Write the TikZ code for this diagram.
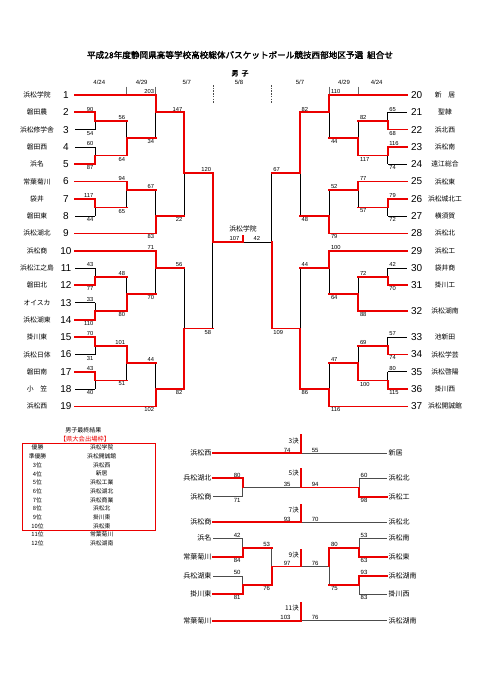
\documentclass[tikz,border=0pt]{standalone}
\usepackage{fontspec}
\setmainfont{Liberation Sans}
\newfontfamily\jp{Noto Sans CJK JP}
\newfontfamily\jpb[FakeBold=2]{Noto Sans CJK JP}
\definecolor{rd}{RGB}{235,0,0}
\pgfdeclarelayer{fg}
\pgfsetlayers{main,fg}
\newcount\mysccnt
\tikzset{
  rl/.style={draw=rd, line width=1.7pt, line cap=rect},
  bl/.style={draw=black, line width=0.8pt},
  pbl/.style={draw=black!70, line width=0.6pt},
  sc/.style={inner sep=0pt, font=\fontsize{5.8}{6}\selectfont},
  num/.style={inner sep=0pt, font=\fontsize{10}{11}\selectfont},
  tn/.style={inner sep=0pt, font=\jp\fontsize{6.8}{7}\selectfont},
  pn/.style={inner sep=0pt, font=\jp\fontsize{7}{8}\selectfont},
  psc/.style={inner sep=0pt, font=\fontsize{6}{7}\selectfont},
  pk/.style={inner sep=0pt, font=\jp\fontsize{6.5}{7}\selectfont},
  rk/.style={inner sep=0pt, font=\jp\fontsize{5.8}{6}\selectfont},
  dt/.style={inner sep=0pt, font=\fontsize{6}{7}\selectfont},
  tick/.style={draw=black!60, line width=0.5pt},
  dtick/.style={draw=black!70, line width=0.5pt, dash pattern=on 1.5pt off 1.2pt}
}
% left match: x, ytop, ybot, yout, xnext, topwins, topscore, botscore
\newcommand{\LM}[8]{%
  \ifnum#6=1
    \begin{pgfonlayer}{fg}\draw[rl] (#1,#2)--(#1,#4)--(#5,#4);\end{pgfonlayer}
    \draw[bl] (#1,#4)--(#1,#3);
  \else
    \begin{pgfonlayer}{fg}\draw[rl] (#1,#3)--(#1,#4)--(#5,#4);\end{pgfonlayer}
    \draw[bl] (#1,#2)--(#1,#4);
  \fi
  \global\advance\mysccnt by 1
  \node[sc,anchor=south east] (s\the\mysccnt) at (#1-1.5,#2-1) {#7};
  \global\advance\mysccnt by 1
  \node[sc,anchor=north east] (s\the\mysccnt) at (#1-1.5,#3+1.3) {#8};
}
\newcommand{\RM}[8]{%
  \ifnum#6=1
    \begin{pgfonlayer}{fg}\draw[rl] (#1,#2)--(#1,#4)--(#5,#4);\end{pgfonlayer}
    \draw[bl] (#1,#4)--(#1,#3);
  \else
    \begin{pgfonlayer}{fg}\draw[rl] (#1,#3)--(#1,#4)--(#5,#4);\end{pgfonlayer}
    \draw[bl] (#1,#2)--(#1,#4);
  \fi
  \global\advance\mysccnt by 1
  \node[sc,anchor=south west] (s\the\mysccnt) at (#1+1.5,#2-1) {#7};
  \global\advance\mysccnt by 1
  \node[sc,anchor=north west] (s\the\mysccnt) at (#1+1.5,#3+1.3) {#8};
}
% entries: num, name, y, endx, red
\newcommand{\LE}[5]{%
  \node[num] (ln#1) at (66,#3) {#1};
  \node[tn] (lt#1) at (37,#3) {#2};
  \ifnum#5=1 \begin{pgfonlayer}{fg}\draw[rl] (75,#3)--(#4,#3);\end{pgfonlayer}\else \draw[bl] (75,#3)--(#4,#3);\fi
}
\newcommand{\RE}[5]{%
  \node[num] (rn#1) at (416.7,#3) {#1};
  \node[tn] (rt#1) at (445,#3) {#2};
  \ifnum#5=1 \begin{pgfonlayer}{fg}\draw[rl] (406.7,#3)--(#4,#3);\end{pgfonlayer}\else \draw[bl] (406.7,#3)--(#4,#3);\fi
}
\newcommand{\RK}[3]{%
  \node[rk] (rka#1) at (37.5,#2) {#1};
  \node[rk] (rkb#1) at (101.7,#2) {#3};
}
\def\PL{213.3}\def\PM{242.7}\def\PN{271.7}\def\PC{300.7}\def\PO{329.3}\def\PP{359}\def\PR{386.7}
\begin{document}
\begin{tikzpicture}[x=1pt,y=-1pt]
\fill[white] (0,0) rectangle (481,680);
\useasboundingbox (0,0) rectangle (481,680);

% title and header
\node[inner sep=0pt, font=\jpb\fontsize{8.6}{9}\selectfont] (title) at (240,55) {平成28年度静岡県高等学校高校総体バスケットボール競技西部地区予選\hspace{4pt}組合せ};
\node[inner sep=0pt, font=\jpb\fontsize{7}{8}\selectfont] (sex) at (240,73.3) {男\hspace{3pt}子};
\node[dt] (d1) at (99.3,82.7) {4/24};
\node[dt] (d2) at (141.7,82.7) {4/29};
\node[dt] (d3) at (186.7,82.7) {5/7};
\node[dt] (d4) at (239,82.7) {5/8};
\node[dt] (d5) at (300,82.7) {5/7};
\node[dt] (d6) at (344,82.7) {4/29};
\node[dt] (d7) at (376.7,82.7) {4/24};
\draw[tick] (126.7,86.5)--(126.7,94);
\draw[tick] (155.7,86.5)--(155.7,94);
\draw[tick] (329.3,86.5)--(329.3,94);
\draw[tick] (358.3,86.5)--(358.3,94);
\draw[dtick] (213.3,85)--(213.3,103);
\draw[dtick] (271.7,85)--(271.7,103);

% left entries
\LE{1}{浜松学院}{95}{155.7}{1}
\LE{2}{磐田農}{112.3}{95}{1}
\LE{3}{浜松修学舎}{129.6}{95}{0}
\LE{4}{磐田西}{146.9}{95}{0}
\LE{5}{浜名}{164.2}{95}{1}
\LE{6}{常葉菊川}{181.5}{126.7}{1}
\LE{7}{袋井}{198.8}{95}{1}
\LE{8}{磐田東}{216.1}{95}{0}
\LE{9}{浜松湖北}{233.4}{155.7}{1}
\LE{10}{浜松商}{250.7}{155.7}{1}
\LE{11}{浜松江之島}{268}{95}{0}
\LE{12}{磐田北}{285.3}{95}{1}
\LE{13}{オイスカ}{302.6}{95}{0}
\LE{14}{浜松湖東}{319.9}{95}{1}
\LE{15}{掛川東}{337.2}{95}{1}
\LE{16}{浜松日体}{354.5}{95}{0}
\LE{17}{磐田南}{371.8}{95}{1}
\LE{18}{小　笠}{389.1}{95}{0}
\LE{19}{浜松西}{406.4}{155.7}{1}

% right entries
\RE{20}{新　居}{95}{329.3}{1}
\RE{21}{聖隷}{112.3}{387.7}{0}
\RE{22}{浜北西}{129.6}{387.7}{1}
\RE{23}{浜松南}{146.9}{387.7}{1}
\RE{24}{遠江総合}{164.2}{387.7}{0}
\RE{25}{浜松東}{181.5}{358.3}{1}
\RE{26}{浜松城北工}{198.8}{387.7}{1}
\RE{27}{横須賀}{216.1}{387.7}{0}
\RE{28}{浜松北}{233.4}{329.3}{1}
\RE{29}{浜松工}{250.7}{329.3}{1}
\RE{30}{袋井商}{268}{387.7}{0}
\RE{31}{掛川工}{285.3}{387.7}{1}
\RE{32}{浜松湖南}{311.25}{358.3}{1}
\RE{33}{池新田}{337.2}{387.7}{0}
\RE{34}{浜松学芸}{354.5}{387.7}{1}
\RE{35}{浜松啓陽}{371.8}{387.7}{0}
\RE{36}{掛川西}{389.1}{387.7}{1}
\RE{37}{浜松開誠館}{406.4}{329.3}{1}

% left matches
\LM{95}{112.3}{129.6}{120.95}{126.7}{1}{90}{54}
\LM{95}{146.9}{164.2}{155.55}{126.7}{0}{60}{87}
\LM{126.7}{120.95}{155.55}{138.25}{155.7}{0}{56}{64}
\LM{155.7}{95}{138.25}{112.3}{184}{1}{203}{34}
\LM{95}{198.8}{216.1}{207.45}{126.7}{1}{117}{44}
\LM{126.7}{181.5}{207.45}{190.15}{155.7}{1}{94}{65}
\LM{155.7}{190.15}{233.4}{216.1}{184}{0}{67}{83}
\LM{184}{112.3}{216.1}{172.85}{212.7}{1}{147}{22}
\LM{95}{268}{285.3}{276.65}{126.7}{0}{43}{77}
\LM{95}{302.6}{319.9}{311.25}{126.7}{0}{33}{110}
\LM{126.7}{276.65}{311.25}{293.95}{155.7}{0}{48}{80}
\LM{155.7}{250.7}{293.95}{268}{184}{1}{71}{70}
\LM{95}{337.2}{354.5}{345.85}{126.7}{1}{70}{31}
\LM{95}{371.8}{389.1}{380.45}{126.7}{1}{43}{40}
\LM{126.7}{345.85}{380.45}{363.15}{155.7}{1}{101}{51}
\LM{155.7}{363.15}{406.4}{389.1}{184}{0}{44}{102}
\LM{184}{268}{389.1}{328.55}{212.7}{0}{56}{82}
\LM{212.7}{172.85}{328.55}{242.05}{242.7}{1}{120}{58}

% right matches
\RM{387.7}{112.3}{129.6}{120.95}{358.3}{0}{65}{68}
\RM{387.7}{146.9}{164.2}{155.55}{358.3}{1}{116}{74}
\RM{358.3}{120.95}{155.55}{138.25}{329.3}{0}{82}{117}
\RM{329.3}{95}{138.25}{112.3}{300}{1}{110}{44}
\RM{387.7}{198.8}{216.1}{207.45}{358.3}{1}{79}{72}
\RM{358.3}{181.5}{207.45}{190.15}{329.3}{1}{77}{57}
\RM{329.3}{190.15}{233.4}{216.1}{300}{0}{52}{79}
\RM{300}{112.3}{216.1}{172.85}{271.7}{1}{82}{48}
\RM{387.7}{268}{285.3}{276.65}{358.3}{0}{42}{70}
\RM{358.3}{276.65}{311.25}{293.95}{329.3}{0}{72}{88}
\RM{329.3}{250.7}{293.95}{268}{300}{1}{100}{64}
\RM{387.7}{337.2}{354.5}{345.85}{358.3}{0}{57}{74}
\RM{387.7}{371.8}{389.1}{380.45}{358.3}{0}{80}{115}
\RM{358.3}{345.85}{380.45}{363.15}{329.3}{0}{69}{100}
\RM{329.3}{363.15}{406.4}{389.1}{300}{0}{47}{116}
\RM{300}{268}{389.1}{328.55}{271.7}{0}{44}{86}

% final
\draw[bl] (271.7,172.85)--(271.7,242.05)--(242.7,242.05);
\begin{pgfonlayer}{fg}
\draw[rl] (271.7,328.55)--(271.7,242.05);
\draw[rl] (242.7,236)--(242.7,242.05);
\end{pgfonlayer}
\node[sc,anchor=south west] (f67) at (273.2,171.85) {67};
\node[sc,anchor=north west] (f109) at (273.2,329.85) {109};
\node[sc,anchor=south east] (f107) at (239.5,241) {107};
\node[sc,anchor=south west] (f42) at (253.5,241) {42};
\node[tn] (champ) at (243,229) {浜松学院};

% results
\node[inner sep=0pt, font=\jp\fontsize{6}{7}\selectfont] (rt1) at (83.3,430) {男子最終結果};
\node[inner sep=0pt, font=\jp\fontsize{6.3}{7}\selectfont, text=rd] (rt2) at (85,439) {【県大会出場枠】};
\draw[draw=rd, line width=0.9pt] (22,443.3) rectangle (155,530.4);
\RK{優勝}{447.7}{浜松学院}
\RK{準優勝}{456.4}{浜松開誠館}
\RK{3位}{465.1}{浜松西}
\RK{4位}{473.8}{新居}
\RK{5位}{482.5}{浜松工業}
\RK{6位}{491.2}{浜松湖北}
\RK{7位}{499.9}{浜松商業}
\RK{8位}{508.6}{浜松北}
\RK{9位}{517.3}{掛川東}
\RK{10位}{526}{浜松東}
\RK{11位}{534.7}{常葉菊川}
\RK{12位}{543.4}{浜松湖南}

% 3rd place
\node[pn,anchor=east] (a3l) at (211.5,453.3) {浜松西};
\node[pn,anchor=west] (a3r) at (388.5,453.3) {新居};
\draw[pbl] (\PC,453.3)--(\PR,453.3);
\begin{pgfonlayer}{fg}
\draw[rl] (\PL,453.3)--(\PC,453.3);
\draw[rl] (\PC,435)--(\PC,453.3);
\end{pgfonlayer}
\node[pk,anchor=east] (k3) at (299,441) {3決};
\node[psc,anchor=south east] (q31) at (\PC-10,452.3) {74};
\node[psc,anchor=south west] (q32) at (\PC+11,452.3) {55};

% 5th place
\node[pn,anchor=east] (a5a) at (211.5,478.3) {兵松湖北};
\node[pn,anchor=east] (a5b) at (211.5,496.7) {浜松商};
\node[pn,anchor=west] (a5c) at (388.5,478.3) {浜松北};
\node[pn,anchor=west] (a5d) at (388.5,496.7) {浜松工};
\draw[pbl] (\PL,496.7)--(\PM,496.7)--(\PM,487.5)--(\PC,487.5);
\draw[pbl] (\PP,487.5)--(\PP,478.3)--(\PR,478.3);
\begin{pgfonlayer}{fg}
\draw[rl] (\PL,478.3)--(\PM,478.3)--(\PM,487.5);
\draw[rl] (\PC,469.3)--(\PC,487.5)--(\PP,487.5)--(\PP,496.7)--(\PR,496.7);
\end{pgfonlayer}
\node[pk,anchor=east] (k5) at (299,473.5) {5決};
\node[psc,anchor=south east] (q51) at (\PM-2,477.3) {80};
\node[psc,anchor=north east] (q52) at (\PM-2,497.9) {71};
\node[psc,anchor=south east] (q53) at (\PC-10,486.5) {35};
\node[psc,anchor=south west] (q54) at (\PC+11,486.5) {94};
\node[psc,anchor=south west] (q55) at (\PP+1.5,477.3) {60};
\node[psc,anchor=north west] (q56) at (\PP+1.5,497.9) {98};

% 7th place
\node[pn,anchor=east] (a7l) at (211.5,522.3) {浜松商};
\node[pn,anchor=west] (a7r) at (388.5,522.3) {浜松北};
\draw[pbl] (\PC,522.3)--(\PR,522.3);
\begin{pgfonlayer}{fg}
\draw[rl] (\PL,522.3)--(\PC,522.3);
\draw[rl] (\PC,505)--(\PC,522.3);
\end{pgfonlayer}
\node[pk,anchor=east] (k7) at (299,510) {7決};
\node[psc,anchor=south east] (q71) at (\PC-10,521.3) {93};
\node[psc,anchor=south west] (q72) at (\PC+11,521.3) {70};

% 9th place
\node[pn,anchor=east] (a9a) at (211.5,538.3) {浜名};
\node[pn,anchor=east] (a9b) at (211.5,557.3) {常葉菊川};
\node[pn,anchor=east] (a9c) at (211.5,576) {兵松湖東};
\node[pn,anchor=east] (a9d) at (211.5,594.3) {掛川東};
\node[pn,anchor=west] (a9e) at (388.5,538.3) {浜松南};
\node[pn,anchor=west] (a9f) at (388.5,557.3) {浜松東};
\node[pn,anchor=west] (a9g) at (388.5,576) {浜松湖南};
\node[pn,anchor=west] (a9h) at (388.5,594.3) {掛川西};
\draw[pbl] (\PL,538.3)--(\PM,538.3)--(\PM,547.8);
\draw[pbl] (\PL,576)--(\PM,576)--(\PM,585.15);
\draw[pbl] (\PN,547.8)--(\PN,566.5);
\draw[pbl] (\PR,538.3)--(\PP,538.3)--(\PP,547.8);
\draw[pbl] (\PP,585.15)--(\PP,594.3)--(\PR,594.3);
\draw[pbl] (\PO,566.5)--(\PO,585.15);
\draw[pbl] (\PO,566.5)--(\PC,566.5);
\begin{pgfonlayer}{fg}
\draw[rl] (\PL,557.3)--(\PM,557.3)--(\PM,547.8)--(\PN,547.8);
\draw[rl] (\PL,594.3)--(\PM,594.3)--(\PM,585.15)--(\PN,585.15)--(\PN,566.5)--(\PC,566.5);
\draw[rl] (\PC,550)--(\PC,566.5);
\draw[rl] (\PR,557.3)--(\PP,557.3)--(\PP,547.8)--(\PO,547.8)--(\PO,566.5);
\draw[rl] (\PR,576)--(\PP,576)--(\PP,585.15)--(\PO,585.15);
\end{pgfonlayer}
\node[pk,anchor=east] (k9) at (299,555) {9決};
\node[psc,anchor=south east] (q91) at (\PM-2,537.3) {42};
\node[psc,anchor=north east] (q92) at (\PM-2,558.5) {84};
\node[psc,anchor=south east] (q93) at (\PM-2,575) {50};
\node[psc,anchor=north east] (q94) at (\PM-2,595.5) {81};
\node[psc,anchor=south east] (q95) at (\PN-1.5,546.8) {53};
\node[psc,anchor=north east] (q96) at (\PN-1.5,586.4) {76};
\node[psc,anchor=south east] (q97) at (\PC-10,565.5) {97};
\node[psc,anchor=south west] (q98) at (\PC+11,565.5) {76};
\node[psc,anchor=south west] (q99) at (\PP+1.5,537.3) {53};
\node[psc,anchor=north west] (q9a) at (\PP+1.5,558.5) {63};
\node[psc,anchor=south west] (q9b) at (\PP+1.5,575) {93};
\node[psc,anchor=north west] (q9c) at (\PP+1.5,595.5) {83};
\node[psc,anchor=south west] (q9d) at (\PO+1.5,546.8) {80};
\node[psc,anchor=north west] (q9e) at (\PO+1.5,586.4) {75};

% 11th place
\node[pn,anchor=east] (a11l) at (211.5,620.7) {常葉菊川};
\node[pn,anchor=west] (a11r) at (388.5,620.7) {浜松湖南};
\draw[pbl] (\PC,620.7)--(\PR,620.7);
\begin{pgfonlayer}{fg}
\draw[rl] (\PL,620.7)--(\PC,620.7);
\draw[rl] (\PC,603.3)--(\PC,620.7);
\end{pgfonlayer}
\node[pk,anchor=east] (k11) at (299,608.3) {11決};
\node[psc,anchor=south east] (q111) at (\PC-10,619.7) {103};
\node[psc,anchor=south west] (q112) at (\PC+11,619.7) {76};
\end{tikzpicture}
\end{document}
